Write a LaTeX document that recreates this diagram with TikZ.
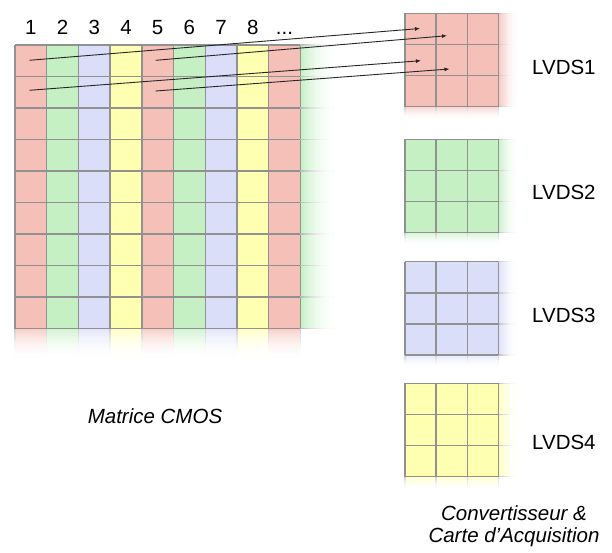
\documentclass[tikz,border=0pt]{standalone}
\usepackage{fontspec}
\setmainfont{Liberation Sans}
\usetikzlibrary{arrows.meta}
\definecolor{cR}{RGB}{245,192,184}
\definecolor{cG}{RGB}{196,240,196}
\definecolor{cB}{RGB}{218,222,248}
\definecolor{cY}{RGB}{255,255,178}
\definecolor{gridc}{RGB}{145,145,145}
\tikzset{
  lbl/.style={font=\fontsize{20.5}{24}\selectfont, inner sep=0pt},
  itl/.style={font=\fontsize{20.5}{22}\selectfont\itshape, inner sep=0pt, align=center},
  gline/.style={draw=gridc, line width=1.4pt},
  link/.style={draw=black!85, line width=0.9pt, -{Latex[length=5pt,width=4pt]}}
}
% horizontal fade: color, start intensity, x0, y0, x1, y1
\newcommand\myfadeH[6]{%
  \foreach \s in {0,...,23}{%
    \pgfmathsetmacro\pp{#2*(1-(\s+0.5)/24)^2.2}%
    \fill[#1!\pp!white] ({#3+(#5-(#3))*\s/24},{#4}) rectangle ({#3+(#5-(#3))*(\s+1.3)/24},{#6});
  }}
% vertical fade
\newcommand\myfadeV[6]{%
  \foreach \s in {0,...,23}{%
    \pgfmathsetmacro\pp{#2*(1-(\s+0.5)/24)^2.2}%
    \fill[#1!\pp!white] ({#3},{#4+(#6-(#4))*\s/24}) rectangle ({#5},{#4+(#6-(#4))*(\s+1.3)/24});
  }}
\begin{document}
\begin{tikzpicture}[x=1pt,y=-1pt]
\useasboundingbox[fill=white] (0,0) rectangle (612,553);
% ---------- main matrix ----------
\def\mx{15}\def\my{45}\def\cw{31.7}\def\ch{31.5}
\myfadeH{cG}{100}{\mx+9*\cw}{\my}{\mx+9*\cw+40}{\my+9*\ch}
\foreach \c [count=\i from 0] in {cR,cG,cB,cY,cR,cG,cB,cY,cR}{
  \myfadeV{\c}{80}{\mx+\i*\cw}{\my+9*\ch}{\mx+(\i+1)*\cw}{\my+9*\ch+34}
  \fill[\c] ({\mx+\i*\cw},\my) rectangle ({\mx+(\i+1)*\cw},{\my+9*\ch});
}
% grid lines
\foreach \i in {0,...,9}{
  \myfadeV{gridc}{50}{\mx+\i*\cw-0.7}{\my+9*\ch}{\mx+\i*\cw+0.7}{\my+9*\ch+32}
  \draw[gline] ({\mx+\i*\cw},\my) -- ({\mx+\i*\cw},{\my+9*\ch});
}
\foreach \j in {0,...,9}{
  \myfadeH{gridc}{65}{\mx+9*\cw}{\my+\j*\ch-0.7}{\mx+9*\cw+40}{\my+\j*\ch+0.7}
  \draw[gline] (\mx,{\my+\j*\ch}) -- ({\mx+9*\cw},{\my+\j*\ch});
}
% column numbers
\foreach \t [count=\i from 0] in {1,2,3,4,5,6,7,8}{
  \node[lbl, anchor=base] (n\t) at ({\mx+(\i+0.5)*\cw},35) {\t};
}
\node[lbl, anchor=base] (ndots) at ({\mx+8.5*\cw},35) {...};
\node[itl] (mat) at (155,416) {Matrice CMOS};
% ---------- right blocks ----------
\def\bx{405}\def\bw{31.1}
\foreach \c/\top/\name/\ly [count=\k] in {cR/13.3/LVDS1/67, cG/139.3/LVDS2/192, cB/261.7/LVDS3/315, cY/383.3/LVDS4/442}{
  \myfadeH{\c}{95}{\bx+3*\bw}{\top}{\bx+3*\bw+22}{\top+3*\bw}
  \myfadeV{\c}{75}{\bx}{\top+3*\bw}{\bx+3*\bw}{\top+3*\bw+15}
  \fill[\c] (\bx,\top) rectangle ({\bx+3*\bw},{\top+3*\bw});
  \foreach \i in {0,...,3}{
    \myfadeV{gridc}{50}{\bx+\i*\bw-0.7}{\top+3*\bw}{\bx+\i*\bw+0.7}{\top+3*\bw+14}
    \myfadeH{gridc}{60}{\bx+3*\bw}{\top+\i*\bw-0.7}{\bx+3*\bw+22}{\top+\i*\bw+0.7}
    \draw[gline] ({\bx+\i*\bw},\top) -- ({\bx+\i*\bw},{\top+3*\bw});
    \draw[gline] (\bx,{\top+\i*\bw}) -- ({\bx+3*\bw},{\top+\i*\bw});
  }
  \node[lbl, anchor=west] (lv\k) at (532,\ly) {\name};
}
\node[itl] (conv) at (514,526) {Convertisseur \&\\Carte d'Acquisition};
% ---------- links ----------
\coordinate (s1) at (29.3,60.3);  \coordinate (e1) at (420,28.5);
\coordinate (s2) at (155.7,60.3); \coordinate (e2) at (447,35.7);
\coordinate (s3) at (29.3,90.3);  \coordinate (e3) at (421,60.7);
\coordinate (s4) at (155.7,91);   \coordinate (e4) at (449.5,69);
\draw[link] (s1) -- (e1);
\draw[link] (s2) -- (e2);
\draw[link] (s3) -- (e3);
\draw[link] (s4) -- (e4);
\end{tikzpicture}
\end{document}
